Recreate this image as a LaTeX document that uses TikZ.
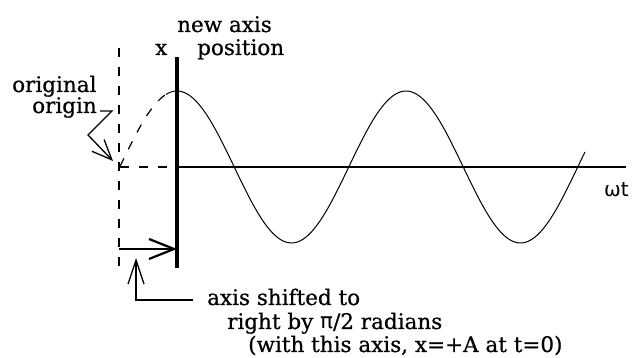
\documentclass[tikz,border=0pt]{standalone}
\usepackage{fontspec}
\setmainfont{DejaVu Serif}[FakeBold=0.6]
\newfontfamily\symfont{DejaVu Sans}
\usetikzlibrary{arrows.meta}
\tikzset{
  lbl/.style={anchor=base west, inner sep=0pt, font=\fontsize{21.5}{23}\selectfont},
  dsh/.style={line width=1.2pt, dash pattern=on 9pt off 10pt},
  wave/.style={line width=1pt},
  barbA/.style={-{Straight Barb[length=25pt,width=20pt]}, line width=2.2pt},
  barbB/.style={-{Straight Barb[length=24pt,width=16pt]}, line width=1.3pt},
  barbC/.style={-{Straight Barb[length=20pt,width=17pt]}, line width=1.3pt}
}
\begin{document}
\begin{tikzpicture}[x=1pt,y=-1pt]
\useasboundingbox (0,0) rectangle (638,358);
% coordinates
\coordinate (axtop) at (177,57);
\coordinate (axbot) at (177,268);
\coordinate (O) at (177,167);
\coordinate (xend) at (626,167);
\coordinate (origO) at (120,167);
\coordinate (dtop) at (119,48);
\coordinate (dbot) at (119,268);
\coordinate (sA) at (119,249);
\coordinate (sB) at (177,249);
\coordinate (pA) at (193,300);
\coordinate (pB) at (136,300);
\coordinate (pC) at (136,258);
\coordinate (lA) at (100,111);
\coordinate (lB) at (112,111);
\coordinate (lC) at (88,135);
\coordinate (lD) at (113,161);
% axes
\draw[line width=4.7pt] (axtop) -- (axbot);
\draw[line width=2pt] (O) -- (xend);
\draw[dsh] (origO) -- (O);
\draw[dsh] (dtop) -- (dbot);
% wave
\draw[dsh] plot[domain=120:166, samples=30, smooth] (\x,{167-76*cos(1.572052*(\x-177))});
\draw[wave] plot[domain=166:585, samples=160, smooth] (\x,{167-76*cos(1.572052*(\x-177))});
% arrows
\draw[barbA] (sA) -- (sB);
\draw[barbB] (pA) -- (pB) -- (pC);
\draw[barbC] (lA) -- (lB) -- (lC) -- (lD);
% labels
\node[lbl] (newaxis) at (177,32) {new axis};
\node[lbl] (position) at (197,55) {position};
\node[lbl] (xlab) at (155,55) {x};
\node[lbl] (orig1) at (12,92) {original};
\node[lbl] (orig2) at (32,113) {origin};
\node[lbl, font=\symfont\fontsize{20}{22}\selectfont] (wt) at (604,197) {ωt};
\node[lbl] (sh1) at (207,305) {axis shifted to};
\node[lbl] (sh2) at (227,329) {right by {\symfont π}/2 radians};
\node[lbl] (sh3) at (248,352) {(with this axis, x=+A at t=0)};
\end{tikzpicture}
\end{document}
